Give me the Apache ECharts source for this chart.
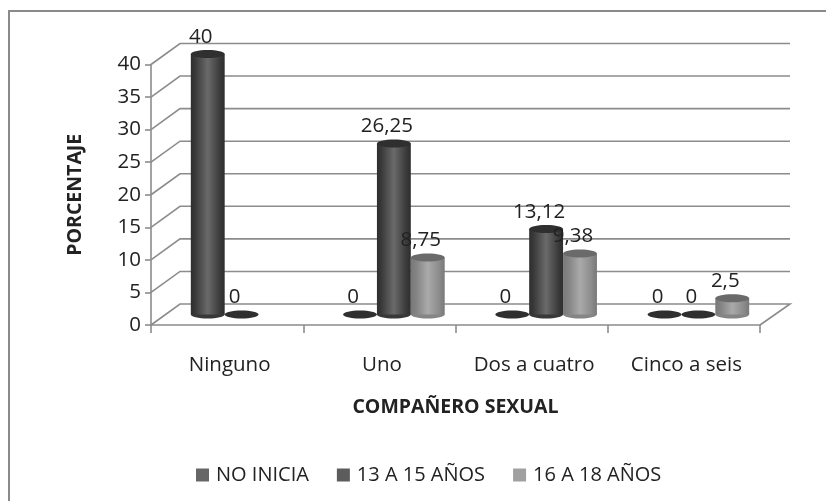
<!DOCTYPE html>
<html><head><meta charset="utf-8">
<style>html,body{margin:0;padding:0;background:#fff}#c{width:826px;height:501px;filter:blur(0.5px)}</style>
<script src="https://cdn.jsdelivr.net/npm/echarts@6/dist/echarts.min.js"></script>
</head><body><div id="c"></div>
<script>
var categories = ['Ninguno','Uno','Dos a cuatro','Cinco a seis'];
var noInicia = [40,0,0,0];
var de13a15 = [0,26.25,13.12,0];
var de16a18 = [null,8.75,9.38,2.5];
var yTicks = [0,5,10,15,20,25,30,35,40];
var seriesNames = ['NO INICIA','13 A 15 AÑOS','16 A 18 AÑOS'];

var FONT = '"Open Sans", sans-serif';
var DEPTH_X = 29, DEPTH_Y = -21;
var gradDark = [[0,'#2e2e2e'],[0.12,'#383838'],[0.5,'#6a6a6a'],[0.88,'#383838'],[1,'#2e2e2e']];
var gradLight = [[0,'#787878'],[0.18,'#858585'],[0.5,'#aaaaaa'],[0.85,'#8a8a8a'],[1,'#787878']];

function fmt(v){ return String(v).replace('.',','); }

function cylinder(slot, grad, topColor){
  return function(params, api){
    var v = api.value(1);
    if (v === null || v === undefined || isNaN(v)) return;
    var cat = api.value(0);
    var band = api.size([1,0])[0];
    var bw = band * 0.2225;
    var cx = api.coord([cat,0])[0] + slot*bw + DEPTH_X/2;
    var y0 = api.coord([cat,0])[1] + DEPTH_Y/2;
    var yT = api.coord([cat,v])[1] + DEPTH_Y/2;
    var r = bw/2, ry = 4;
    var kids = [];
    if (v > 0) {
      kids.push({type:'ellipse',shape:{cx:cx,cy:y0,rx:r,ry:ry},style:{fill:grad[1][1]}});
      kids.push({type:'rect',shape:{x:cx-r,y:yT,width:bw,height:y0-yT},
        style:{fill:new echarts.graphic.LinearGradient(0,0,1,0,grad.map(function(g){return {offset:g[0],color:g[1]};}))}});
      kids.push({type:'ellipse',shape:{cx:cx,cy:yT,rx:r,ry:ry},style:{fill:topColor}});
    } else {
      kids.push({type:'ellipse',shape:{cx:cx,cy:y0,rx:r,ry:ry},style:{fill:'#2f2f2f'}});
    }
    kids.push({type:'text',z2:50,style:{x:cx-7,y:yT-17,text:fmt(v),fill:'#222',font:'20.5px '+FONT,align:'center',verticalAlign:'middle'}});
    return {type:'group',children:kids};
  };
}

function walls(params, api){
  var v = api.value(0);
  var p = api.coord([0,v]);
  var left = p[0] - api.size([1,0])[0]/2;
  var right = left + api.size([1,0])[0]*4;
  var line = {stroke:'#8c8c8c',lineWidth:1.6,fill:null};
  var pts = [[left,p[1]],[left+DEPTH_X,p[1]+DEPTH_Y],[right+DEPTH_X+1,p[1]+DEPTH_Y]];
  if (v === 0) pts.push([right,p[1]]);
  return {type:'polyline',shape:{points:pts},style:line};
}

function pairs(a){ return a.map(function(v,i){ return [i,v]; }); }

var chart = echarts.init(document.getElementById('c'),null,{renderer:'canvas'});
chart.setOption({
  animation:false,
  backgroundColor:'#fff',
  graphic:[{type:'polyline',silent:true,z:0,shape:{points:[[9,501],[9,11],[826,11]]},style:{stroke:'#8a8a8a',lineWidth:2,fill:null}}],
  textStyle:{fontFamily:FONT},
  grid:{left:151,right:66,top:64.5,height:260.5,containLabel:false},
  xAxis:{type:'category',data:categories,boundaryGap:true,
    name:'COMPAÑERO SEXUAL',nameLocation:'middle',nameGap:72,
    nameTextStyle:{fontFamily:FONT,fontWeight:'bold',fontSize:19.5,color:'#222'},
    axisLine:{lineStyle:{color:'#8c8c8c',width:1.6}},
    axisTick:{show:true,alignWithLabel:false,length:8,lineStyle:{color:'#8c8c8c',width:1.6}},
    axisLabel:{fontSize:20.5,color:'#222',margin:30,fontFamily:FONT,interval:0,hideOverlap:false,padding:[0,0,0,5]},
    splitLine:{show:false}},
  yAxis:{type:'value',min:0,max:40,interval:5,
    name:'PORCENTAJE',nameLocation:'middle',nameGap:66,nameRotate:90,
    nameTextStyle:{fontFamily:FONT,fontWeight:'bold',fontSize:19.5,color:'#222'},
    axisLine:{show:true,lineStyle:{color:'#8c8c8c',width:1.6}},
    axisTick:{show:true,length:6,lineStyle:{color:'#8c8c8c',width:1.6}},
    axisLabel:{fontSize:20.5,color:'#222',margin:10,fontFamily:FONT,padding:[6,0,0,0]},
    splitLine:{show:false}},
  legend:{show:true,data:seriesNames,left:191,top:460,icon:'rect',itemWidth:13,itemHeight:13,itemGap:28,
    selectedMode:false,textStyle:{fontSize:20,color:'#222',fontFamily:FONT,padding:[0,0,0,2]}},
  series:[
    {type:'custom',name:'paredes',coordinateSystem:'cartesian2d',silent:true,z:1,
     data:yTicks.map(function(t){return [t];}),encode:{y:0},renderItem:walls},
    {type:'custom',name:seriesNames[0],silent:true,z:3,itemStyle:{color:'#666666'},
     data:pairs(noInicia),encode:{x:0,y:1},renderItem:cylinder(-1,gradDark,'#2f2f2f')},
    {type:'custom',name:seriesNames[1],silent:true,z:4,itemStyle:{color:'#5c5c5c'},
     data:pairs(de13a15),encode:{x:0,y:1},renderItem:cylinder(0,gradDark,'#2f2f2f')},
    {type:'custom',name:seriesNames[2],silent:true,z:5,itemStyle:{color:'#a0a0a0'},
     data:pairs(de16a18),encode:{x:0,y:1},renderItem:cylinder(1,gradLight,'#6a6a6a')}
  ]
});
</script></body></html>
